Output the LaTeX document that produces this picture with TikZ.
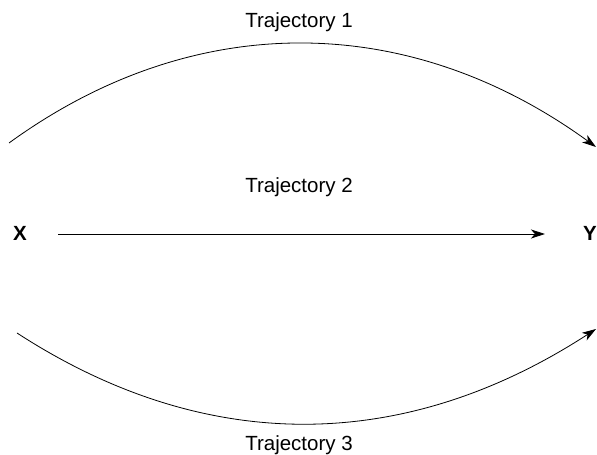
\documentclass[tikz,border=0pt]{standalone}
\usepackage{fontspec}
\setmainfont{Liberation Sans}
\usetikzlibrary{positioning,arrows.meta}

\begin{document}
\begin{tikzpicture}[x=1pt,y=1pt,label/.style={font=\fontsize{20.5}{24}\selectfont,inner sep=0pt,anchor=base},point/.style={font=\fontsize{20.5}{24}\selectfont\bfseries,inner sep=2pt},arrow/.style={draw=black, line width=0.8pt, -{Stealth[length=14pt,width=9pt,inset=4pt]}}]
  \useasboundingbox (0,0) rectangle (597,455);

  \node[point] (X) at (20,222) {X};
  \node[point] (Y) at (590,222) {Y};

  \node[label] (t1) at (299,427) {Trajectory 1};
  \node[label] (t2) at (299,262) {Trajectory 2};
  \node[label] (t3) at (299,4) {Trajectory 3};

  \coordinate (t1s) at (9,312);
  \coordinate (t1e) at (596,308);
  \coordinate (t3s) at (17,122);
  \coordinate (t3e) at (596,126);

  \draw[arrow] (t1s) to[out=36,in=144] (t1e);
  \draw[arrow,shorten <=29pt,shorten >=36pt] (X.east |- 0,221) -- (Y.west |- 0,221);
  \draw[arrow] (t3s) to[out=-33,in=-147] (t3e);

\end{tikzpicture}
\end{document}
